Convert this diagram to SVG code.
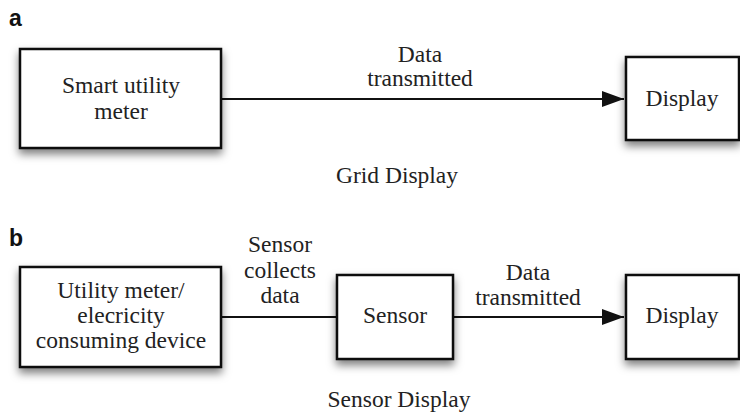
<svg xmlns="http://www.w3.org/2000/svg" width="740" height="417" viewBox="0 0 740 417">
<defs>
<filter id="sh" x="-20%" y="-20%" width="140%" height="150%">
<feDropShadow dx="0" dy="5" stdDeviation="4" flood-color="#000" flood-opacity="0.5"/>
</filter>
<marker id="arr" markerWidth="22" markerHeight="16" refX="22" refY="8" orient="auto" markerUnits="userSpaceOnUse">
<path d="M0,0 L22,8 L0,16 Z" fill="#111"/>
</marker>
</defs>
<style>
.box{fill:#fff;stroke:#111;stroke-width:2.5;filter:url(#sh)}
.t{font-family:"Liberation Serif","Times New Roman",serif;font-size:23.5px;fill:#222;text-anchor:middle}
.lbl{font-family:"Liberation Sans",Arial,sans-serif;font-size:23px;font-weight:bold;fill:#111}
.ln{stroke:#111;stroke-width:2;fill:none}
</style>
<text class="lbl" x="9" y="26">a</text>
<text class="lbl" x="9" y="246">b</text>
<g id="connectors">
<line class="ln" x1="221" y1="99" x2="624" y2="99" marker-end="url(#arr)"/>
<line class="ln" x1="221" y1="317" x2="337" y2="317"/>
<line class="ln" x1="453" y1="317" x2="624" y2="317" marker-end="url(#arr)"/>
<text class="t" x="420" y="62">Data</text>
<text class="t" x="420" y="86">transmitted</text>
<text class="t" x="280" y="252">Sensor</text>
<text class="t" x="280" y="278">collects</text>
<text class="t" x="280" y="303">data</text>
<text class="t" x="528" y="280">Data</text>
<text class="t" x="528" y="305">transmitted</text>
</g>
<g id="smart-meter">
<rect class="box" x="20" y="49" width="201" height="99"/>
<text class="t" x="121" y="93">Smart utility</text>
<text class="t" x="121" y="119">meter</text>
</g>
<g id="display-a">
<rect class="box" x="626" y="57" width="113" height="83"/>
<text class="t" x="682" y="106">Display</text>
</g>
<text class="t" x="397" y="183">Grid Display</text>
<g id="utility-meter">
<rect class="box" x="20" y="267" width="201" height="100"/>
<text class="t" x="121" y="298">Utility meter/</text>
<text class="t" x="121" y="323">elecricity</text>
<text class="t" x="121" y="348">consuming device</text>
</g>
<g id="sensor">
<rect class="box" x="337" y="275" width="116" height="84"/>
<text class="t" x="395" y="323">Sensor</text>
</g>
<g id="display-b">
<rect class="box" x="626" y="275" width="113" height="84"/>
<text class="t" x="682" y="323">Display</text>
</g>
<text class="t" x="399" y="407">Sensor Display</text>
</svg>
